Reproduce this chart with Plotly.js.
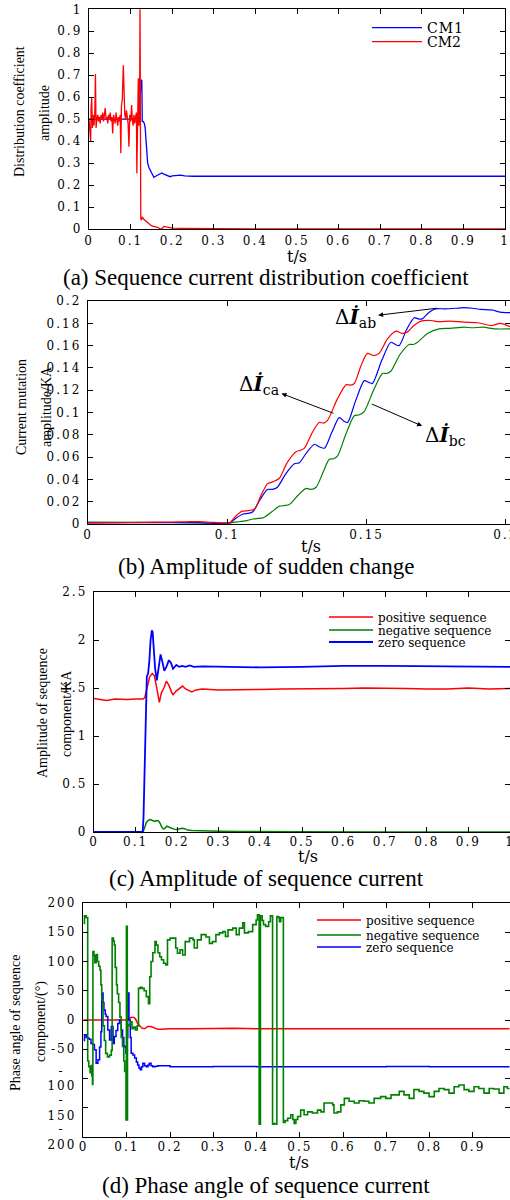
<!DOCTYPE html>
<html>
<head>
<meta charset="utf-8">
<script src="https://cdn.plot.ly/plotly-3.0.1.min.js"></script>
<style>
  html, body { margin: 0; padding: 0; background: #ffffff; }
  #chart { width: 510px; height: 1200px; }
  #chart .xtick text, #chart .x2tick text, #chart .x3tick text, #chart .x4tick text,
  #chart .ytick text, #chart .y2tick text, #chart .y3tick text, #chart .y4tick text { letter-spacing: 2px; }
  #chart text.legendtext { letter-spacing: 1px; }
</style>
</head>
<body>
<div id="chart"></div>
<script>
// ================= DATA =================
// (a) Sequence current distribution coefficient
const tA_cm1 = [0, 0.05, 0.10, 0.118, 0.121, 0.123, 0.125, 0.127, 0.128, 0.130,
  0.133, 0.135, 0.137, 0.139, 0.141, 0.144, 0.147, 0.150, 0.153, 0.156,
  0.160, 0.165, 0.170, 0.175, 0.180, 0.185, 0.190, 0.195, 0.200, 0.210,
  0.220, 0.230, 0.250, 0.300, 0.400, 0.500, 0.600, 0.700, 0.800, 0.900, 1.000];
const cm1 = [0.50, 0.50, 0.50, 0.50, 0.52, 0.60, 0.68, 0.675, 0.49, 0.49,
  0.48, 0.46, 0.40, 0.33, 0.30, 0.28, 0.27, 0.26, 0.245, 0.235,
  0.24, 0.245, 0.25, 0.255, 0.25, 0.245, 0.24, 0.238, 0.242, 0.245,
  0.245, 0.242, 0.24, 0.24, 0.24, 0.241, 0.242, 0.243, 0.243, 0.242, 0.24];

const tA_cm2 = [0.000, 0.002, 0.004, 0.005, 0.0065, 0.008, 0.010, 0.012, 0.014, 0.0155,
  0.017, 0.019, 0.021, 0.023, 0.025, 0.027, 0.029, 0.031, 0.033, 0.035,
  0.037, 0.039, 0.041, 0.043, 0.045, 0.047, 0.049, 0.051, 0.053, 0.055,
  0.057, 0.059, 0.061, 0.063, 0.065, 0.067, 0.069, 0.071, 0.073, 0.075,
  0.0765, 0.078, 0.080, 0.0825, 0.084, 0.086, 0.088, 0.090, 0.092, 0.094,
  0.096, 0.098, 0.100, 0.1025, 0.104, 0.106, 0.108, 0.110, 0.112, 0.114,
  0.115, 0.1165, 0.1185, 0.120, 0.1215, 0.1226, 0.1235, 0.1245, 0.126, 0.128,
  0.131, 0.134, 0.137, 0.140, 0.145, 0.150, 0.155, 0.160, 0.165, 0.170,
  0.175, 0.180, 0.185, 0.190, 0.200, 0.220, 0.250, 0.300, 0.350, 0.400,
  0.500, 0.700, 1.000];
const cm2 = [0.50, 0.42, 0.397, 0.55, 0.60, 0.46, 0.52, 0.47, 0.53, 0.705,
  0.46, 0.50, 0.52, 0.49, 0.51, 0.48, 0.52, 0.50, 0.53, 0.49,
  0.52, 0.55, 0.50, 0.51, 0.48, 0.52, 0.50, 0.53, 0.49, 0.51,
  0.435, 0.52, 0.50, 0.48, 0.53, 0.50, 0.47, 0.51, 0.49, 0.52,
  0.345, 0.56, 0.59, 0.745, 0.55, 0.52, 0.50, 0.54, 0.51, 0.48,
  0.374, 0.52, 0.49, 0.564, 0.50, 0.47, 0.52, 0.48, 0.51, 0.53,
  0.254, 0.60, 0.686, 0.47, 0.52, 1.02, 0.15, 0.05, 0.04, 0.055,
  0.045, 0.04, 0.035, 0.03, 0.02, 0.015, 0.012, 0.01, 0.008, 0.002,
  0.0, 0.012, 0.01, 0.005, 0.004, 0.003, 0.002, 0.002, 0.001, 0.0,
  0.0, 0.0, 0.0];

// (b) Amplitude of sudden change (x positions as drawn; first tick is labelled "0")
const tB_ab = [0.050, 0.070, 0.090, 0.1008, 0.1030, 0.1056, 0.1075, 0.1092, 0.1118, 0.1144,
  0.1162, 0.1180, 0.1210, 0.1241, 0.1259, 0.1285, 0.1313, 0.1332, 0.1349, 0.1375,
  0.1402, 0.1420, 0.1432, 0.1460, 0.1492, 0.1508, 0.1521, 0.1555, 0.1587, 0.1603,
  0.1617, 0.1645, 0.1671, 0.1686, 0.1700, 0.1725, 0.1748, 0.1780, 0.1820, 0.1850,
  0.1880, 0.1910, 0.1950, 0.1980, 0.2015];
const dIab = [0.0010, 0.0012, 0.0010, 0.0008, 0.0050, 0.0090, 0.0095, 0.0110, 0.0220, 0.0310,
  0.0310, 0.0330, 0.0450, 0.0540, 0.0550, 0.0640, 0.0715, 0.0690, 0.0680, 0.0820,
  0.0954, 0.0920, 0.0910, 0.1100, 0.1286, 0.1270, 0.1260, 0.1470, 0.1630, 0.1610,
  0.1600, 0.1750, 0.1850, 0.1840, 0.1840, 0.1900, 0.1930, 0.1930, 0.1935, 0.1940,
  0.1935, 0.1925, 0.1920, 0.1900, 0.1895];

const tB_ca = [0.050, 0.060, 0.070, 0.080, 0.085, 0.090, 0.095, 0.1008, 0.1030, 0.1054,
  0.1076, 0.1098, 0.1120, 0.1144, 0.1165, 0.1187, 0.1215, 0.1248, 0.1262, 0.1277,
  0.1305, 0.1330, 0.1345, 0.1360, 0.1395, 0.1427, 0.1442, 0.1456, 0.1480, 0.1503,
  0.1525, 0.1545, 0.1575, 0.1606, 0.1626, 0.1646, 0.1670, 0.1696, 0.1730, 0.1760,
  0.1800, 0.1850, 0.1900, 0.1950, 0.1980, 0.2015];
const dIca = [0.0010, 0.0012, 0.0015, 0.0018, 0.0020, 0.0022, 0.0015, 0.0010, 0.0070, 0.0115,
  0.0120, 0.0135, 0.0250, 0.0360, 0.0380, 0.0410, 0.0550, 0.0650, 0.0660, 0.0680,
  0.0820, 0.0910, 0.0905, 0.0930, 0.1120, 0.1250, 0.1245, 0.1260, 0.1420, 0.1530,
  0.1510, 0.1530, 0.1660, 0.1730, 0.1710, 0.1720, 0.1780, 0.1820, 0.1825, 0.1815,
  0.1820, 0.1810, 0.1805, 0.1780, 0.1800, 0.1770];

const tB_bc = [0.050, 0.070, 0.090, 0.1000, 0.1040, 0.1070, 0.1092, 0.1110, 0.1128, 0.1160,
  0.1187, 0.1205, 0.1223, 0.1255, 0.1283, 0.1300, 0.1319, 0.1345, 0.1366, 0.1381,
  0.1396, 0.1425, 0.1456, 0.1474, 0.1492, 0.1525, 0.1557, 0.1572, 0.1587, 0.1620,
  0.1653, 0.1668, 0.1683, 0.1720, 0.1760, 0.1800, 0.1850, 0.1880, 0.1920, 0.1960, 0.2015];
const dIbc = [0.0018, 0.0015, 0.0012, 0.0010, 0.0020, 0.0030, 0.0045, 0.0050, 0.0055, 0.0110,
  0.0160, 0.0165, 0.0175, 0.0260, 0.0320, 0.0310, 0.0330, 0.0470, 0.0580, 0.0585,
  0.0610, 0.0800, 0.0970, 0.0980, 0.1010, 0.1200, 0.1350, 0.1350, 0.1370, 0.1520,
  0.1610, 0.1610, 0.1630, 0.1710, 0.1750, 0.1755, 0.1765, 0.1760, 0.1765, 0.1750, 0.1750];

// (c) Amplitude of sequence current
const tC_pos = [0, 0.02, 0.03, 0.05, 0.08, 0.10, 0.118, 0.122, 0.126, 0.130,
  0.134, 0.140, 0.145, 0.150, 0.154, 0.157, 0.162, 0.168, 0.174, 0.180,
  0.186, 0.190, 0.198, 0.206, 0.213, 0.220, 0.228, 0.235, 0.245, 0.26,
  0.30, 0.35, 0.40, 0.45, 0.50, 0.55, 0.60, 0.65, 0.70, 0.75,
  0.80, 0.85, 0.90, 0.95, 1.0];
const ampPos = [1.39, 1.38, 1.37, 1.385, 1.38, 1.385, 1.385, 1.40, 1.47, 1.55,
  1.62, 1.65, 1.63, 1.52, 1.40, 1.35, 1.45, 1.50, 1.57, 1.53,
  1.46, 1.43, 1.47, 1.50, 1.52, 1.49, 1.47, 1.46, 1.48, 1.49,
  1.48, 1.48, 1.485, 1.49, 1.49, 1.495, 1.495, 1.50, 1.50, 1.495,
  1.49, 1.49, 1.50, 1.49, 1.495];

const tC_neg = [0, 0.10, 0.118, 0.122, 0.126, 0.130, 0.134, 0.138, 0.142, 0.146,
  0.150, 0.155, 0.159, 0.163, 0.167, 0.171, 0.175, 0.180, 0.186, 0.192,
  0.198, 0.205, 0.212, 0.218, 0.225, 0.235, 0.25, 0.28, 0.30, 0.35,
  0.40, 0.50, 0.70, 1.0];
const ampNeg = [0, 0, 0, 0.05, 0.10, 0.12, 0.13, 0.125, 0.12, 0.11,
  0.12, 0.115, 0.09, 0.05, 0.03, 0.04, 0.06, 0.05, 0.04, 0.03,
  0.025, 0.03, 0.04, 0.035, 0.02, 0.015, 0.015, 0.01, 0.008, 0.005,
  0.003, 0.002, 0.001, 0.001];

const tC_zero = [0, 0.05, 0.10, 0.117, 0.119, 0.121, 0.123, 0.125, 0.127, 0.130,
  0.133, 0.136, 0.139, 0.141, 0.144, 0.147, 0.151, 0.155, 0.160, 0.164,
  0.169, 0.174, 0.180, 0.185, 0.190, 0.198, 0.205, 0.212, 0.220, 0.230,
  0.240, 0.26, 0.30, 0.40, 0.50, 0.55, 0.60, 0.70, 0.80, 0.90, 1.0];
const ampZero = [0, 0, 0, 0, 0.15, 0.55, 1.10, 1.45, 1.62, 1.65,
  1.78, 2.00, 2.10, 2.08, 1.90, 1.70, 1.58, 1.70, 1.85, 1.78,
  1.68, 1.72, 1.79, 1.76, 1.70, 1.74, 1.72, 1.73, 1.72, 1.735,
  1.72, 1.725, 1.72, 1.715, 1.72, 1.725, 1.73, 1.73, 1.725, 1.72, 1.72];

// (d) Phase angle of sequence current
const tD_pos = [0, 0.05, 0.10, 0.105, 0.110, 0.116, 0.120, 0.125, 0.130, 0.135,
  0.141, 0.148, 0.156, 0.165, 0.172, 0.180, 0.20, 0.25, 0.30, 0.35,
  0.40, 0.5, 0.6, 0.7, 0.8, 0.9, 0.986];
const angPos = [0, 0.5, 0, 2, 4.6, 4.5, 2, -6, -11, -14,
  -15, -11, -11, -14, -16, -16, -15, -15, -14, -14,
  -15, -15, -14.5, -15, -15, -14.5, -15];

const tD_neg = [0.000, 0.002, 0.006, 0.0085, 0.0095, 0.012, 0.015, 0.017, 0.019, 0.0205,
  0.0215, 0.024, 0.026, 0.029, 0.032, 0.035, 0.038, 0.040, 0.042, 0.045,
  0.048, 0.051, 0.055, 0.060, 0.064, 0.066, 0.069, 0.071, 0.073, 0.076,
  0.078, 0.081, 0.084, 0.087, 0.090, 0.093, 0.095, 0.0975, 0.098, 0.099,
  0.1005, 0.101, 0.1015, 0.104, 0.108, 0.112, 0.116, 0.120, 0.124, 0.127,
  0.131, 0.135, 0.140, 0.145, 0.150, 0.153, 0.156, 0.160, 0.165, 0.168,
  0.172, 0.176, 0.180, 0.185, 0.190, 0.194, 0.200, 0.206, 0.213, 0.217,
  0.223, 0.229, 0.235, 0.245, 0.253, 0.256, 0.263, 0.272, 0.283, 0.291,
  0.298, 0.306, 0.314, 0.322, 0.328, 0.334, 0.345, 0.353, 0.360, 0.368,
  0.372, 0.381, 0.391, 0.399, 0.402, 0.405, 0.406, 0.408, 0.409, 0.413,
  0.416, 0.421, 0.428, 0.432, 0.436, 0.437, 0.441, 0.446, 0.447, 0.451,
  0.453, 0.456, 0.461, 0.462, 0.466, 0.472, 0.479, 0.484, 0.487, 0.491,
  0.495, 0.502, 0.510, 0.518, 0.529, 0.541, 0.549, 0.556, 0.568, 0.576,
  0.579, 0.587, 0.595, 0.603, 0.614, 0.626, 0.637, 0.649, 0.660, 0.672,
  0.687, 0.699, 0.711, 0.730, 0.741, 0.753, 0.764, 0.776, 0.787, 0.799,
  0.811, 0.822, 0.834, 0.845, 0.857, 0.868, 0.880, 0.891, 0.903, 0.914,
  0.926, 0.938, 0.949, 0.961, 0.972, 0.980, 0.986];
const angNeg = [165, 178, 175, 175, -70, -80, -90, -78, -95, -110,
  117, 110, 98, 112, 100, 92, 85, 60, 34, -10,
  -35, -57, -63, -60, -52, 140, 135, 128, 90, 60,
  45, 30, 5, -30, -45, -70, -88, -88, -171, 160,
  160, -171, -10, -8, -3, -15, -12, -17, -10, 54,
  56, 54, 50, 40, 28, 74, 100, 115, 134, 128,
  115, 108, 103, 97, 94, 137, 140, 140, 123, 114,
  120, 111, 134, 140, 137, 123, 137, 146, 142, 131,
  134, 146, 149, 151, 143, 154, 157, 146, 157, 166,
  149, 151, 163, 171, 180, 180, -178, -178, 178, 170,
  163, 160, 168, 178, 178, -178, -177, -178, 177, 175,
  168, 175, 175, -175, -172, -168, -162, -170, -177, -170,
  -165, -154, -162, -157, -159, -154, -157, -142, -142, -145,
  -159, -157, -145, -134, -139, -142, -138, -139, -142, -134,
  -131, -134, -128, -122, -128, -134, -119, -122, -125, -131,
  -122, -117, -119, -125, -114, -111, -119, -122, -114, -117,
  -125, -117, -118, -125, -114, -117, -119];

const tD_zero = [0, 0.002, 0.006, 0.0095, 0.013, 0.017, 0.021, 0.025, 0.029, 0.033,
  0.037, 0.040, 0.042, 0.045, 0.047, 0.050, 0.052, 0.056, 0.060, 0.064,
  0.068, 0.071, 0.075, 0.079, 0.083, 0.087, 0.090, 0.093, 0.096, 0.098,
  0.100, 0.102, 0.105, 0.108, 0.110, 0.114, 0.118, 0.122, 0.125, 0.128,
  0.131, 0.134, 0.137, 0.141, 0.145, 0.149, 0.152, 0.156, 0.160, 0.166,
  0.172, 0.20, 0.30, 0.40, 0.50, 0.60, 0.70, 0.80, 0.90, 0.986];
const angZero = [-35, -25, -30, -31, -33, -40, -42, -51, -74, -68,
  -46, -20, 46, 30, 17, 10, 6, -17, -34, -11,
  -40, -28, -18, -6, 0, -17, -30, -46, -45, -57,
  -30, 46, 0, -30, -57, -60, -65, -72, -77, -82,
  -85, -80, -74, -78, -80, -77, -74, -78, -80, -79,
  -78, -80, -79.5, -80, -80, -80, -79.5, -80, -80, -80];

// tick values / labels
const tickA = [0, 0.1, 0.2, 0.3, 0.4, 0.5, 0.6, 0.7, 0.8, 0.9, 1];
const tickA_text = ['0', '0.1', '0.2', '0.3', '0.4', '0.5', '0.6', '0.7', '0.8', '0.9', '1'];
const tickB_x = [0.05, 0.1, 0.15, 0.2];
const tickB_xText = ['0', '0.1', '0.15', '0.2'];
const tickB_y = [0, 0.02, 0.04, 0.06, 0.08, 0.1, 0.12, 0.14, 0.16, 0.18, 0.2];
const tickB_yText = ['0', '0.02', '0.04', '0.06', '0.08', '0.1', '0.12', '0.14', '0.16', '0.18', '0.2'];
const tickC_y = [0, 0.5, 1, 1.5, 2, 2.5];
const tickC_yText = ['0', '0.5', '1', '1.5', '2', '2.5'];
const tickD_x = [0, 0.1, 0.2, 0.3, 0.4, 0.5, 0.6, 0.7, 0.8, 0.9];
const tickD_xText = ['0', '0.1', '0.2', '0.3', '0.4', '0.5', '0.6', '0.7', '0.8', '0.9'];
const tickD_y = [-200, -150, -100, -50, 0, 50, 100, 150, 200];
const tickD_yText = ['-\u00a0\u00a0<br>200', '-\u00a0\u00a0<br>150', '-\u00a0\u00a0<br>100', '-50', '0', '50', '100', '150', '200'];

// ================= LAYOUT =================
const W = 510, H = 1200;
const fx = p => p / W;
const fy = p => 1 - p / H;
const BLUE = '#0000ff', RED = '#ff0000', GREEN = '#008000';
const SERIF = 'Liberation Serif, Times New Roman, serif';
const WSERIF = 'DejaVu Serif, Liberation Serif, serif';
const TICKFONT = { family: WSERIF, size: 12, color: '#000' };

function axis(extra) {
  return Object.assign({
    showline: true, linecolor: '#000', linewidth: 1.3, mirror: 'ticks',
    ticks: 'inside', ticklen: 5, tickwidth: 1, tickcolor: '#000',
    showgrid: false, zeroline: false, tickmode: 'array',
    tickfont: TICKFONT, fixedrange: true, automargin: false, ticklabelstandoff: 3
  }, extra);
}
function leg(xpx, ypx, w, size) {
  return {
    x: fx(xpx), y: fy(ypx), xanchor: 'left', yanchor: 'middle', xref: 'paper', yref: 'paper',
    bgcolor: 'rgba(0,0,0,0)', borderwidth: 0, itemwidth: w,
    font: { family: WSERIF, size: size, color: '#000' }
  };
}

const traces = [
  // (a)
  { x: tA_cm1, y: cm1, name: 'CM1', type: 'scatter', mode: 'lines', xaxis: 'x', yaxis: 'y',
    line: { color: BLUE, width: 1.3 }, legend: 'legend' },
  { x: tA_cm2, y: cm2, name: 'CM2', type: 'scatter', mode: 'lines', xaxis: 'x', yaxis: 'y',
    line: { color: RED, width: 1.3 }, legend: 'legend2' },
  // (b)
  { x: tB_bc, y: dIbc, name: 'ΔI bc', type: 'scatter', mode: 'lines', xaxis: 'x2', yaxis: 'y2',
    line: { color: GREEN, width: 1.2, shape: 'spline', smoothing: 0.7 }, showlegend: false },
  { x: tB_ab, y: dIab, name: 'ΔI ab', type: 'scatter', mode: 'lines', xaxis: 'x2', yaxis: 'y2',
    line: { color: BLUE, width: 1.2, shape: 'spline', smoothing: 0.7 }, showlegend: false },
  { x: tB_ca, y: dIca, name: 'ΔI ca', type: 'scatter', mode: 'lines', xaxis: 'x2', yaxis: 'y2',
    line: { color: RED, width: 1.2, shape: 'spline', smoothing: 0.7 }, showlegend: false },
  // (c)
  { x: tC_pos, y: ampPos, name: 'positive sequence', type: 'scatter', mode: 'lines', xaxis: 'x3', yaxis: 'y3',
    line: { color: RED, width: 1.5 }, legend: 'legend3' },
  { x: tC_neg, y: ampNeg, name: 'negative sequence', type: 'scatter', mode: 'lines', xaxis: 'x3', yaxis: 'y3',
    line: { color: GREEN, width: 1.5 }, legend: 'legend4' },
  { x: tC_zero, y: ampZero, name: 'zero sequence', type: 'scatter', mode: 'lines', xaxis: 'x3', yaxis: 'y3',
    line: { color: BLUE, width: 1.8 }, legend: 'legend5' },
  // (d)
  { x: tD_pos, y: angPos, name: 'positive sequence', type: 'scatter', mode: 'lines', xaxis: 'x4', yaxis: 'y4',
    line: { color: RED, width: 1.5 }, legend: 'legend6' },
  { x: tD_zero, y: angZero, name: 'zero sequence', type: 'scatter', mode: 'lines', xaxis: 'x4', yaxis: 'y4',
    line: { color: BLUE, width: 1.5, shape: 'hv' }, legend: 'legend8' },
  { x: tD_neg, y: angNeg, name: 'negative sequence', type: 'scatter', mode: 'lines', xaxis: 'x4', yaxis: 'y4',
    line: { color: GREEN, width: 1.6, shape: 'hv' }, legend: 'legend7' }
];

function caption(text, cy) {
  return { text: text, xref: 'paper', yref: 'paper', x: fx(266), y: fy(cy), xanchor: 'center', yanchor: 'middle',
    showarrow: false, font: { family: SERIF, size: 23, color: '#000' } };
}
function xtitle(cx, cy) {
  return { text: 't/s', xref: 'paper', yref: 'paper', x: fx(cx), y: fy(cy), xanchor: 'center', yanchor: 'middle',
    showarrow: false, borderpad: 0, font: { family: WSERIF, size: 16, color: '#000' } };
}
function ytitle(text, cx, cy) {
  return { text: text, xref: 'paper', yref: 'paper', x: fx(cx), y: fy(cy), xanchor: 'center', yanchor: 'middle',
    textangle: -90, showarrow: false, font: { family: SERIF, size: 14, color: '#000' } };
}
// label with an arrow drawn from the curve point (x, y) to the label, head at the label side
function dLabel(sub, labelT, labelV, curveT, curveV) {
  return { text: 'Δ<b><i>İ</i></b><sub>' + sub + '</sub>', xref: 'x2', yref: 'y2', axref: 'x2', ayref: 'y2',
    x: curveT, y: curveV, ax: labelT, ay: labelV,
    showarrow: true, arrowside: 'start', startarrowhead: 2, startarrowsize: 1, arrowwidth: 1,
    arrowcolor: '#000', standoff: 0, startstandoff: 1,
    font: { family: WSERIF, size: 20, color: '#000' } };
}

const layout = {
  width: W, height: H,
  margin: { l: 0, r: 0, t: 0, b: 0, pad: 0 },
  paper_bgcolor: '#ffffff', plot_bgcolor: '#ffffff',
  font: { family: WSERIF, size: 12, color: '#000' },
  xaxis: axis({ domain: [fx(89), fx(505)], range: [0, 1], anchor: 'y', tickvals: tickA, ticktext: tickA_text, ticklabelstandoff: 0 }),
  yaxis: axis({ domain: [fy(229), fy(9.3)], range: [0, 1], anchor: 'x', tickvals: tickA, ticktext: tickA_text }),
  xaxis2: axis({ domain: [fx(88), 1], range: [0.05, 0.2015], anchor: 'y2', tickvals: tickB_x, ticktext: tickB_xText, ticklabelstandoff: -1, ticklabeloverflow: 'allow' }),
  yaxis2: axis({ domain: [fy(524), fy(301)], range: [0, 0.2], anchor: 'x2', tickvals: tickB_y, ticktext: tickB_yText }),
  xaxis3: axis({ domain: [fx(94), 1], range: [0, 1], anchor: 'y3', tickvals: tickA, ticktext: tickA_text, ticklabelstandoff: -2, ticklabeloverflow: 'allow' }),
  yaxis3: axis({ domain: [fy(832), fy(592)], range: [0, 2.5], anchor: 'x3', tickvals: tickC_y, ticktext: tickC_yText }),
  xaxis4: axis({ domain: [fx(83), fx(509.5)], range: [-0.0014, 0.985], anchor: 'y4', tickvals: tickD_x, ticktext: tickD_xText, ticklabelstandoff: -2 }),
  yaxis4: axis({ domain: [fy(1137), fy(903)], range: [-200, 200], anchor: 'x4', tickvals: tickD_y, ticktext: tickD_yText }),
  legend: leg(367, 28, 50, 14),
  legend2: leg(367, 42, 50, 14),
  legend3: leg(324, 617, 44, 12),
  legend4: leg(324, 630, 44, 12),
  legend5: leg(324, 642, 44, 12),
  legend6: leg(312, 920, 44, 12),
  legend7: leg(312, 935, 44, 12),
  legend8: leg(312, 947, 44, 12),
  annotations: [
    caption('(a) Sequence current distribution coefficient', 277),
    caption('(b) Amplitude of sudden change', 567),
    caption('(c) Amplitude of sequence current', 878),
    caption('(d) Phase angle of sequence current', 1185),
    xtitle(297, 256),
    xtitle(311, 546),
    xtitle(308, 857),
    xtitle(299, 1162),
    ytitle('Distribution coefficient', 19, 112),
    ytitle('amplitude', 45, 113),
    ytitle('Current mutation', 22, 407),
    ytitle('amplitude/KA', 47, 407),
    ytitle('Amplitude of sequence', 42, 713),
    ytitle('component/KA', 66, 714),
    ytitle('Phase angle of sequence', 15, 1023),
    ytitle('component/(°)', 41, 1022),
    dLabel('ab', 0.1459, 0.1848, 0.1752, 0.1935),
    dLabel('ca', 0.1114, 0.1247, 0.1381, 0.0993),
    dLabel('bc', 0.1782, 0.0789, 0.1519, 0.1076)
  ]
};

Plotly.newPlot('chart', traces, layout, { displayModeBar: false, staticPlot: true, responsive: false });
</script>
</body>
</html>
